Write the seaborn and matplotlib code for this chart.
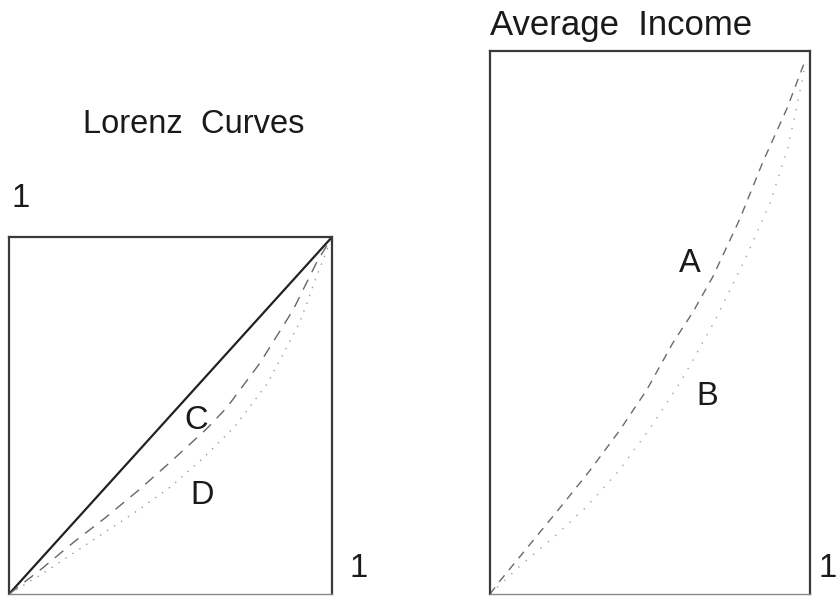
import numpy as np
import pandas as pd
import seaborn as sns
import matplotlib.pyplot as plt

# Lorenz curves panel (share of population -> share of income)
lorenz_equal_x = [0, 1]
lorenz_equal_y = [0, 1]
lorenz_c_x = [0, 0.1, 0.2, 0.3, 0.4, 0.5, 0.612, 0.674, 0.776, 0.879, 0.953, 1]
lorenz_c_y = [0, 0.07, 0.145, 0.215, 0.29, 0.37, 0.463, 0.522, 0.646, 0.795, 0.93, 1]
lorenz_d_x = [0, 0.1, 0.2, 0.3, 0.4, 0.5, 0.6, 0.7, 0.8, 0.9, 0.95, 1]
lorenz_d_y = [0, 0.055, 0.115, 0.175, 0.235, 0.3, 0.38, 0.47, 0.59, 0.76, 0.885, 1]

# average income panel
avg_a_x = [0, 0.031, 0.116, 0.219, 0.313, 0.406, 0.49, 0.572, 0.634, 0.697, 0.781, 0.853, 0.928, 0.984]
avg_a_y = [0, 0.024, 0.085, 0.159, 0.228, 0.302, 0.376, 0.463, 0.519, 0.585, 0.691, 0.796, 0.894, 0.981]
avg_b_x = [0, 0.1, 0.2, 0.3, 0.4, 0.5, 0.6, 0.7, 0.8, 0.875, 0.93, 0.96, 0.985]
avg_b_y = [0, 0.055, 0.105, 0.16, 0.225, 0.305, 0.395, 0.5, 0.62, 0.72, 0.82, 0.9, 0.975]

sns.set_style("white")
plt.rcParams['font.family'] = ['Liberation Sans', 'DejaVu Sans']

fig = plt.figure(figsize=(8.37, 5.97), dpi=100)
ax1 = fig.add_axes([0.0108, 0.005, 0.3859, 0.598])
ax2 = fig.add_axes([0.5854, 0.005, 0.3823, 0.9095])

txt_col = '#1a1a1a'
fs = 23.5

#left panel
sns.lineplot(x=lorenz_equal_x, y=lorenz_equal_y, ax=ax1, color='#222222', lw=1.6, sort=False)
sns.lineplot(x=lorenz_c_x, y=lorenz_c_y, ax=ax1, color='#666666', lw=1.0, sort=False,
             linestyle=(0, (8, 6)))
sns.lineplot(x=lorenz_d_x, y=lorenz_d_y, ax=ax1, color='#9a9a9a', lw=1.0, sort=False,
             linestyle=(0, (1, 5)))
ax1.text(0.579, 0.485, 'C', transform=ax1.transAxes, ha='center', va='center', fontsize=fs, color=txt_col)
ax1.text(0.598, 0.277, 'D', transform=ax1.transAxes, ha='center', va='center', fontsize=fs, color=txt_col)

#right panel
sns.lineplot(x=avg_a_x, y=avg_a_y, ax=ax2, color='#6a6a6a', lw=1.0, sort=False,
             linestyle=(0, (6, 5)))
sns.lineplot(x=avg_b_x, y=avg_b_y, ax=ax2, color='#a0a0a0', lw=1.0, sort=False,
             linestyle=(0, (1, 6)))
ax2.text(0.625, 0.608, 'A', transform=ax2.transAxes, ha='center', va='center', fontsize=fs, color=txt_col)
ax2.text(0.678, 0.363, 'B', transform=ax2.transAxes, ha='center', va='center', fontsize=fs, color=txt_col)

for ax in [ax1, ax2]:
    ax.set_xlim(0, 1)
    ax.set_ylim(0, 1)
    ax.set_xticks([])
    ax.set_yticks([])
    ax.set_xlabel('')
    ax.set_ylabel('')
    for s in ax.spines.values():
        s.set_visible(True)
        s.set_color('#3a3a3a')
        s.set_linewidth(1.6)
    ax.spines['bottom'].set_color('#888888')
    ax.spines['bottom'].set_linewidth(1.0)

fig.text(0.0992, 0.777, 'Lorenz  Curves', fontsize=fs, color=txt_col, va='baseline', ha='left')
fig.text(0.5854, 0.9414, 'Average  Income', fontsize=25, color=txt_col, va='baseline', ha='left')
fig.text(0.025, 0.667, '1', fontsize=fs, color=txt_col, ha='center', va='center')
fig.text(0.428, 0.047, '1', fontsize=fs, color=txt_col, ha='center', va='center')
fig.text(0.989, 0.047, '1', fontsize=fs, color=txt_col, ha='center', va='center')

fig.savefig('out.png', dpi=100)
